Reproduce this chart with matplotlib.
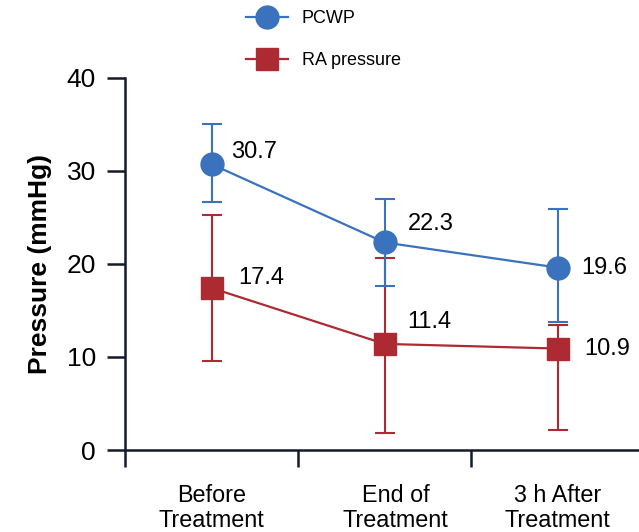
import matplotlib
matplotlib.use("Agg")
import matplotlib.pyplot as plt
from matplotlib.transforms import ScaledTranslation
import numpy as np

plt.rcParams['font.family'] = ['Liberation Sans', 'DejaVu Sans']

# data
categories = ['Before\nTreatment', 'End of\nTreatment', '3 h After\nTreatment']
pcwp = [30.7, 22.3, 19.6]
pcwp_upper = [35.0, 27.0, 25.9]
pcwp_lower = [26.6, 17.6, 13.7]
ra = [17.4, 11.4, 10.9]
ra_upper = [25.3, 20.6, 13.4]
ra_lower = [9.6, 1.8, 2.1]

blue = '#3a72bd'
red = '#ad2a33'
axis_col = '#141b2b'

x = np.arange(1, len(categories) + 1)

fig = plt.figure(figsize=(6.39, 5.32), dpi=100)
ax = fig.add_axes([125.2 / 639, 82 / 532, (644 - 125.2) / 639, 372.3 / 532])

pcwp = np.array(pcwp)
ra = np.array(ra)
pcwp_err = [pcwp - np.array(pcwp_lower), np.array(pcwp_upper) - pcwp]
ra_err = [ra - np.array(ra_lower), np.array(ra_upper) - ra]

ax.errorbar(x, pcwp, yerr=pcwp_err, fmt='none', ecolor=blue, elinewidth=1.5,
            capsize=7, capthick=1.5, zorder=3)
ax.plot(x, pcwp, color=blue, marker='o', markersize=16.5, lw=1.6, label='PCWP', zorder=3)
ax.errorbar(x, ra, yerr=ra_err, fmt='none', ecolor=red, elinewidth=1.5,
            capsize=7, capthick=1.5, zorder=2)
ax.plot(x, ra, color=red, marker='s', markersize=16.5, lw=1.6, label='RA pressure', zorder=2)

# value labels (offsets in points)
pcwp_off = [(14, 9), (16.5, 13), (17, 0)]
ra_off = [(19, 7), (16.5, 16), (19, 0)]
for i in range(len(x)):
    ax.annotate(f'{pcwp[i]:.1f}', (x[i], pcwp[i]), xytext=pcwp_off[i],
                textcoords='offset points', ha='left', va='center', fontsize=17)
    ax.annotate(f'{ra[i]:.1f}', (x[i], ra[i]), xytext=ra_off[i],
                textcoords='offset points', ha='left', va='center', fontsize=17)

ax.set_xlim(0.5, 3.5)
ax.set_ylim(0, 40)
ax.set_yticks([0, 10, 20, 30, 40])
ax.set_xticks([0.5, 1.5, 2.5, 3.5])
ax.set_xticklabels([])
ax.set_xticks(x, minor=True)
ax.set_xticklabels(categories, minor=True, fontsize=16.8, linespacing=1.12)
ax.tick_params(axis='x', which='minor', length=0, pad=24.5)
ax.tick_params(axis='x', which='major', length=12, width=1.8, color=axis_col, direction='out')
ax.tick_params(axis='y', length=12.7, width=1.8, color=axis_col, labelsize=19, pad=8.5)

# middle label sits a little right of its point in the original
mid = ax.get_xticklabels(minor=True)[1]
mid.set_transform(mid.get_transform() + ScaledTranslation(8 / 72, 0, fig.dpi_scale_trans))

for s in ['top', 'right']:
    ax.spines[s].set_visible(False)
for s in ['left', 'bottom']:
    ax.spines[s].set_linewidth(1.8)
    ax.spines[s].set_color(axis_col)

ax.set_ylabel('Pressure (mmHg)', fontsize=19, fontweight='bold', labelpad=10)

fig.legend(loc='upper left', bbox_to_anchor=(246 / 639, 1 - 10 / 532), frameon=False,
           fontsize=13, handlelength=2.3, handletextpad=0.8, labelspacing=1.4,
           borderpad=0, borderaxespad=0)

fig.savefig('out.png', dpi=100)
